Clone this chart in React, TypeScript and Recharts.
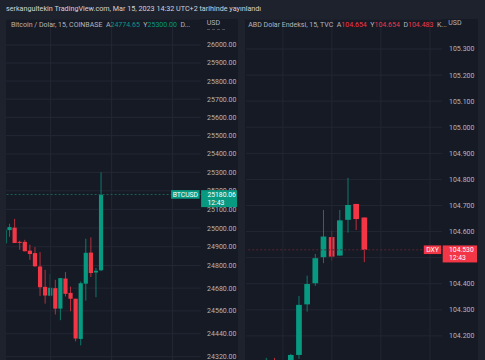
import React from "react";
import { ComposedChart, Bar, XAxis, YAxis, CartesianGrid, ReferenceLine } from "recharts";

// ---------- BTCUSD (15 min, Coinbase) ----------
const btcTimes = [
  "09:45", "10:00", "10:15", "10:30", "10:45", "11:00", "11:15", "11:30", "11:45", "12:00",
  "12:15", "12:30", "12:45", "13:00", "13:15", "13:30", "13:45", "14:00", "14:15", "14:30",
  "14:45", "15:00", "15:15", "15:30", "15:45", "16:00", "16:15", "16:30", "16:45", "17:00",
  "17:15", "17:30", "17:45", "18:00", "18:15", "18:30", "18:45", "19:00", "19:15",
];
const btcOpen = [24918, 24989, 25002, 24926, 24926, 24879, 24866, 24795, 24687, 24640, 24680, 24572, 24731, 24655, 24624, 24413, 24704, 24869, 24763, 24774.65];
const btcHigh = [24996, 25023, 25049, 24932, 24937, 24911, 24898, 24871, 24777, 24755, 24724, 24734, 24765, 24688, 24624, 24715, 24943, 24950, 24787, 25300];
const btcLow = [24912, 24953, 24920, 24884, 24875, 24830, 24792, 24639, 24598, 24636, 24541, 24511, 24636, 24558, 24400, 24379, 24614, 24739, 24632, 24770];
const btcClose = [24991, 25005, 24920, 24924, 24876, 24861, 24796, 24685, 24641, 24682, 24572, 24733, 24650, 24624, 24415, 24706, 24868, 24760, 24772, 25180.06];
const btcTicks = [24320, 24440, 24560, 24680, 24800, 24900, 25000, 25100, 25200, 25300, 25400, 25500, 25600, 25700, 25800, 25900, 26000];
const btcGridTimes = ["12:00", "15:00", "18:00"];
const btcLast = 25180.06;

// ---------- DXY (15 min, TVC) ----------
const dxyTimes = [
  "11:00", "11:15", "11:30", "11:45", "12:00", "12:15", "12:30", "12:45", "13:00", "13:15",
  "13:30", "13:45", "14:00", "14:15", "14:30", "14:45", "15:00", "15:15", "15:30", "15:45",
  "16:00", "16:15", "16:30", "16:45",
];
const dxyOpen = [null, null, 104.04, 104.085, 104.05, 104.08, 104.127, 104.321, 104.402, 104.502, 104.579, 104.508, 104.645, 104.706, 104.654];
const dxyHigh = [null, null, 104.116, 104.116, 104.098, 104.131, 104.353, 104.431, 104.514, 104.683, 104.604, 104.683, 104.806, 104.706, 104.654];
const dxyLow = [null, null, 104.02, 104.03, 104.03, 104.07, 104.112, 104.293, 104.392, 104.479, 104.489, 104.508, 104.596, 104.606, 104.483];
const dxyClose = [null, null, 104.085, 104.05, 104.08, 104.127, 104.319, 104.399, 104.498, 104.581, 104.504, 104.643, 104.702, 104.648, 104.53];
const dxyTicks = [104.2, 104.3, 104.4, 104.5, 104.6, 104.7, 104.8, 104.9, 105.0, 105.1, 105.2, 105.3];
const dxyGridTimes = ["12:00", "13:30", "15:00", "16:30"];
const dxyLast = 104.53;

const GREEN = "#089981";
const RED = "#f23645";
const OUTER = "#1e222d";
const PANEL = "#161a25";
const GRID = "#232734";
const TEXT = "#b2b5be";
const FONT = "Roboto, 'DejaVu Sans', sans-serif";

type Row = { t: string; open?: number; high?: number; low?: number; close?: number; range: number[] | null };

function buildRows(times: string[], open: (number | null)[], high: (number | null)[], low: (number | null)[], close: (number | null)[]): Row[] {
  return times.map((t, i) => {
    const o = open[i];
    if (o == null || o === undefined) return { t, range: null };
    return { t, open: o, high: high[i] as number, low: low[i] as number, close: close[i] as number, range: [low[i] as number, high[i] as number] };
  });
}

const btcRows = buildRows(btcTimes, btcOpen, btcHigh, btcLow, btcClose);
const dxyRows = buildRows(dxyTimes, dxyOpen, dxyHigh, dxyLow, dxyClose);

const Candle = (props: any) => {
  const { x, y, width, height, payload } = props;
  if (!payload || payload.open == null || !isFinite(y) || !isFinite(height)) return null;
  const top = height >= 0 ? y : y + height;
  const h = Math.abs(height);
  const { open, close, high, low } = payload;
  const k = high - low > 0 ? h / (high - low) : 0;
  const yOf = (v: number) => top + (high - v) * k;
  const color = close >= open ? GREEN : RED;
  const bTop = yOf(Math.max(open, close));
  const bBot = yOf(Math.min(open, close));
  const cx = x + width / 2;
  return (
    <g>
      <line x1={cx} x2={cx} y1={top} y2={top + h} stroke={color} strokeWidth={1} strokeOpacity={0.75} />
      <rect x={x} y={bTop} width={width} height={Math.max(bBot - bTop, 1)} fill={color} />
    </g>
  );
};

const PriceTag = (props: any) => {
  const { viewBox, name, price, color, nameW, priceW } = props;
  if (!viewBox) return null;
  const { x, y, width } = viewBox;
  const right = x + width;
  const ts = { fontFamily: FONT, fontSize: 6.8 } as any;
  return (
    <g>
      <rect x={right - nameW - 1} y={y - 4.4} width={nameW} height={8.6} fill={color} />
      <text x={right - nameW / 2 - 1} y={y + 0.2} textAnchor="middle" dominantBaseline="central" fill="#ffffff" style={ts}>{name}</text>
      <rect x={right + 0.5} y={y - 4.4} width={priceW} height={17} fill={color} />
      <text x={right + 6.8} y={y + 0.2} dominantBaseline="central" fill="#ffffff" style={ts}>{price}</text>
      <text x={right + 6.8} y={y + 8.4} dominantBaseline="central" fill="#ffffff" style={ts}>12:43</text>
    </g>
  );
};

const tickStyle = { fill: TEXT, fontSize: 7, fontFamily: FONT };

type PanelCfg = {
  rows: Row[];
  margin: { top: number; left: number; right: number; bottom: number };
  axisWidth: number;
  log: boolean;
  domain: [number, number];
  ticks: number[];
  digits: number;
  tickMargin: number;
};

function Axis(cfg: PanelCfg, showTicks: boolean) {
  return (
    <YAxis
      orientation="right"
      width={cfg.axisWidth}
      scale={cfg.log ? "log" : "linear"}
      type="number"
      domain={cfg.domain}
      allowDataOverflow
      ticks={cfg.ticks}
      interval={0}
      tickFormatter={(v: number) => v.toFixed(cfg.digits)}
      tickLine={false}
      axisLine={false}
      tickSize={0}
      tickMargin={cfg.tickMargin}
      tick={showTicks ? tickStyle : false}
    />
  );
}

const btcCfg: PanelCfg = {
  rows: btcRows,
  margin: { top: 19, left: 2.375, right: 1.4, bottom: 0 },
  axisWidth: 38,
  log: true,
  domain: [24198.9, 26145.3],
  ticks: btcTicks,
  digits: 2,
  tickMargin: 6.5,
};

const dxyCfg: PanelCfg = {
  rows: dxyRows,
  margin: { top: 19, left: 6.1, right: 1.8, bottom: 0 },
  axisWidth: 36,
  log: false,
  domain: [104.031, 105.415],
  ticks: dxyTicks,
  digits: 3,
  tickMargin: 6.8,
};

export default function App() {
  return (
    <div style={{ position: "absolute", left: 0, top: 0, width: 485, height: 360, background: OUTER, overflow: "hidden", fontFamily: FONT }}>
      <div style={{ position: "absolute", left: 6, top: 4, fontSize: 7.2, lineHeight: "9px", color: "#d1d4dc", whiteSpace: "nowrap" }}>
        serkangultekin TradingView.com, Mar 15, 2023 14:32 UTC+2 tarihinde yayınlandı
      </div>

      {/* Left panel */}
      <div style={{ position: "absolute", left: 6, top: 19, width: 232, height: 341, background: PANEL, overflow: "hidden" }}>
        <div style={{ position: "absolute", left: -6, top: -19 }}>
          <ComposedChart width={240} height={380} data={btcCfg.rows} margin={btcCfg.margin}>
            <CartesianGrid horizontal={true} vertical={false} stroke={GRID} strokeWidth={1} />
            <XAxis dataKey="t" type="category" hide />
            {Axis(btcCfg, true)}
            {btcGridTimes.map((g) => (
              <ReferenceLine key={g} x={g} stroke={GRID} strokeWidth={1} />
            ))}
            <ReferenceLine y={btcLast} stroke="#1b5e55" strokeDasharray="2 2" />
            <Bar dataKey="range" barSize={4.2} shape={Candle} isAnimationActive={false} />
          </ComposedChart>
        </div>
        <div style={{ position: "absolute", left: -6, top: -19 }}>
          <ComposedChart width={240} height={380} data={btcCfg.rows} margin={btcCfg.margin}>
            <XAxis dataKey="t" type="category" hide />
            {Axis(btcCfg, false)}
            <ReferenceLine
              y={btcLast}
              stroke="none"
              label={<PriceTag name="BTCUSD" price={btcLast.toFixed(2)} color={GREEN} nameW={28.5} priceW={36} />}
            />
          </ComposedChart>
        </div>
        <div style={{ position: "absolute", left: 200.7, top: 9.8, width: 18.5, borderTop: "1px dashed #4a4e59" }} />
      </div>

      {/* Right panel */}
      <div style={{ position: "absolute", left: 245, top: 19, width: 233, height: 341, background: PANEL, overflow: "hidden" }}>
        <div style={{ position: "absolute", left: -5, top: -19 }}>
          <ComposedChart width={240} height={380} data={dxyCfg.rows} margin={dxyCfg.margin}>
            <CartesianGrid horizontal={true} vertical={false} stroke={GRID} strokeWidth={1} />
            <XAxis dataKey="t" type="category" hide />
            {Axis(dxyCfg, true)}
            {dxyGridTimes.map((g) => (
              <ReferenceLine key={g} x={g} stroke={GRID} strokeWidth={1} />
            ))}
            <ReferenceLine y={dxyLast} stroke="#5a2530" strokeDasharray="2 2" />
            <Bar dataKey="range" barSize={5.7} shape={Candle} isAnimationActive={false} />
          </ComposedChart>
        </div>
        <div style={{ position: "absolute", left: -5, top: -19 }}>
          <ComposedChart width={240} height={380} data={dxyCfg.rows} margin={dxyCfg.margin}>
            <XAxis dataKey="t" type="category" hide />
            {Axis(dxyCfg, false)}
            <ReferenceLine
              y={dxyLast}
              stroke="none"
              label={<PriceTag name="DXY" price={dxyLast.toFixed(3)} color={RED} nameW={17.4} priceW={34.4} />}
            />
          </ComposedChart>
        </div>
      </div>

      {/* Legends */}
      <div style={{ position: "absolute", left: 11, top: 21, fontSize: 7, lineHeight: "9px", color: TEXT, whiteSpace: "nowrap" }}>
        Bitcoin / Dolar, 15, COINBASE&nbsp;&nbsp;A<span style={{ color: GREEN }}>24774.65</span>&nbsp;&nbsp;Y<span style={{ color: GREEN }}>25300.00</span>&nbsp;&nbsp;D...
      </div>
      <div style={{ position: "absolute", left: 206.7, top: 19, fontSize: 7, lineHeight: "9px", color: TEXT }}>USD</div>
      <div style={{ position: "absolute", left: 248.3, top: 21, fontSize: 7, lineHeight: "9px", color: TEXT, whiteSpace: "nowrap" }}>
        ABD Dolar Endeksi, 15, TVC&nbsp;&nbsp;A<span style={{ color: RED }}>104.654</span>&nbsp;&nbsp;Y<span style={{ color: RED }}>104.654</span>&nbsp;&nbsp;D<span style={{ color: RED }}>104.483</span>&nbsp;&nbsp;K...
      </div>
      <div style={{ position: "absolute", left: 448.3, top: 18.5, fontSize: 7, lineHeight: "9px", color: TEXT }}>USD</div>
    </div>
  );
}
